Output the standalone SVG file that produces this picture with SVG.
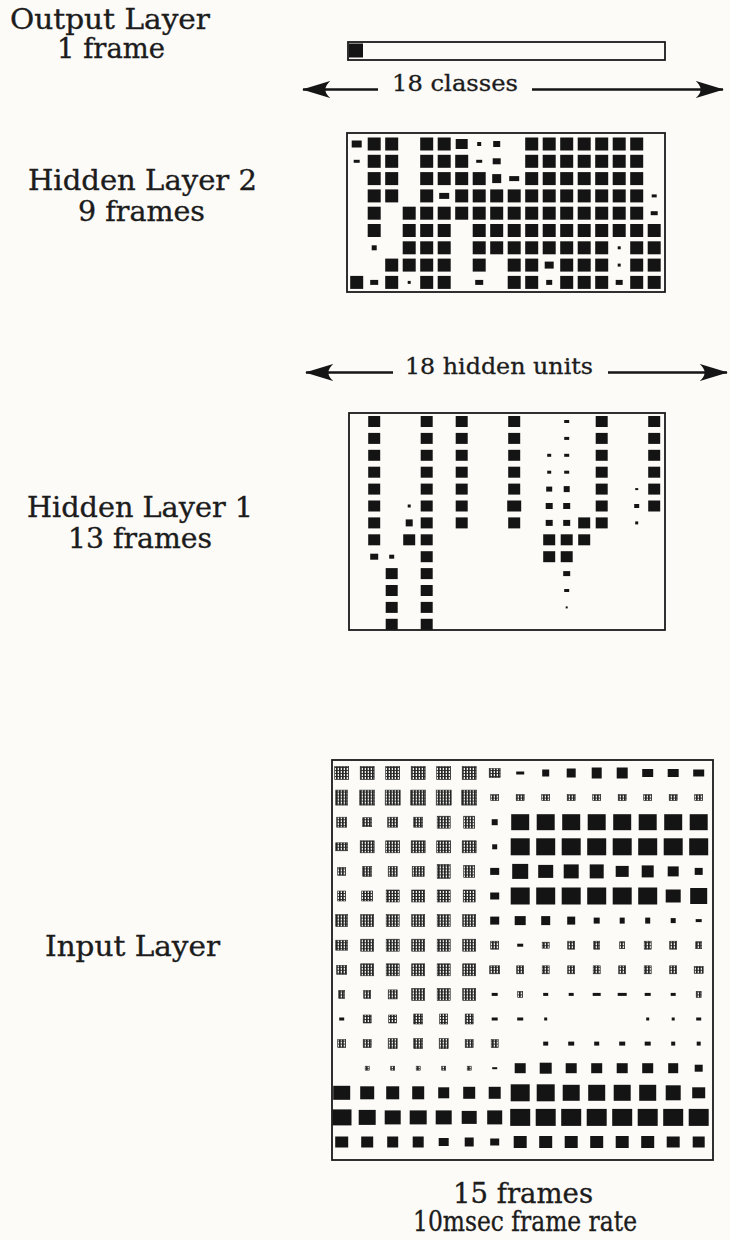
<svg xmlns="http://www.w3.org/2000/svg" width="730" height="1240" viewBox="0 0 730 1240">
<style>
.lbl{font-family:"DejaVu Serif","Liberation Serif",serif;font-size:27px;fill:#1c1c1c;stroke:#1c1c1c;stroke-width:0.35}
.dim{font-family:"DejaVu Serif","Liberation Serif",serif;font-size:22px;fill:#1c1c1c;stroke:#1c1c1c;stroke-width:0.3}
.box{fill:none;stroke:#1a1a1a;stroke-width:1.8}
.k{fill:#141414}
.p{fill:url(#hatch);stroke:#2a2a2a;stroke-width:0.6}
.arr{fill:none;stroke:#151515;stroke-width:2.3;marker-end:url(#head)}
</style>
<defs>
<pattern id="hatch" width="3" height="3" patternUnits="userSpaceOnUse">
<rect width="3" height="3" fill="#eeeeea"/>
<rect width="1.7" height="3" fill="#262626"/>
<rect width="3" height="0.9" fill="#262626"/>
</pattern>
<rect id="f2" x="-6.5" y="-6.5" width="13" height="13" fill="#141414"/>
<rect id="f1" x="-6" y="-5.5" width="12" height="11" fill="#141414"/>
<marker id="head" viewBox="0 0 30 18" refX="29" refY="9" markerWidth="28" markerHeight="18" markerUnits="userSpaceOnUse" orient="auto">
<path d="M30,9 L0,0 Q10,9 0,18 Z" fill="#151515"/>
</marker>
</defs>
<rect width="730" height="1240" fill="#fcfbf8"/>

<g id="output-layer">
<text class="lbl" x="10" y="29" textLength="200" lengthAdjust="spacingAndGlyphs">Output Layer</text>
<text class="lbl" x="57" y="58" textLength="108" lengthAdjust="spacingAndGlyphs">1 frame</text>
<rect class="box" x="348" y="42" width="317" height="18" stroke-width="2"/>
<rect class="k" x="349" y="43.5" width="14" height="14"/>
</g>

<g id="hidden-layer-2">
<text class="lbl" x="28" y="190" textLength="229" lengthAdjust="spacingAndGlyphs">Hidden Layer 2</text>
<text class="lbl" x="78" y="221" textLength="127" lengthAdjust="spacingAndGlyphs">9 frames</text>
<rect class="box" x="347" y="133" width="318" height="159"/>
<g id="h2-row0">
<rect class="k" x="351.7" y="140.5" width="10" height="7"/>
<use href="#f2" x="374.2" y="144"/><use href="#f2" x="391.7" y="144"/><use href="#f2" x="426.7" y="144"/><use href="#f2" x="444.2" y="144"/>
<rect class="k" x="455.7" y="139" width="12" height="10"/>
<rect class="k" x="477.2" y="142" width="4" height="4"/>
<rect class="k" x="493.2" y="141" width="7" height="6"/>
<use href="#f2" x="531.7" y="144"/><use href="#f2" x="549.2" y="144"/><use href="#f2" x="566.7" y="144"/><use href="#f2" x="584.2" y="144"/><use href="#f2" x="601.7" y="144"/><use href="#f2" x="619.2" y="144"/><use href="#f2" x="636.7" y="144"/>
</g>
<g id="h2-row1">
<rect class="k" x="353.7" y="159.8" width="6" height="3"/>
<use href="#f2" x="374.2" y="161.3"/><use href="#f2" x="391.7" y="161.3"/><use href="#f2" x="426.7" y="161.3"/><use href="#f2" x="444.2" y="161.3"/><use href="#f2" x="461.7" y="161.3"/>
<rect class="k" x="476.2" y="159.8" width="6" height="3"/>
<rect class="k" x="492.7" y="158.3" width="8" height="6"/>
<use href="#f2" x="531.7" y="161.3"/><use href="#f2" x="549.2" y="161.3"/><use href="#f2" x="566.7" y="161.3"/><use href="#f2" x="584.2" y="161.3"/><use href="#f2" x="601.7" y="161.3"/><use href="#f2" x="619.2" y="161.3"/><use href="#f2" x="636.7" y="161.3"/>
</g>
<g id="h2-row2">
<use href="#f2" x="374.2" y="178.6"/><use href="#f2" x="391.7" y="178.6"/><use href="#f2" x="426.7" y="178.6"/><use href="#f2" x="444.2" y="178.6"/><use href="#f2" x="461.7" y="178.6"/><use href="#f2" x="479.2" y="178.6"/>
<rect class="k" x="492.2" y="174.1" width="9" height="9"/>
<rect class="k" x="509.2" y="176.1" width="10" height="5"/>
<use href="#f2" x="531.7" y="178.6"/><use href="#f2" x="549.2" y="178.6"/><use href="#f2" x="566.7" y="178.6"/><use href="#f2" x="584.2" y="178.6"/><use href="#f2" x="601.7" y="178.6"/><use href="#f2" x="619.2" y="178.6"/><use href="#f2" x="636.7" y="178.6"/>
</g>
<g id="h2-row3">
<use href="#f2" x="374.2" y="195.9"/><use href="#f2" x="391.7" y="195.9"/><use href="#f2" x="426.7" y="195.9"/>
<rect class="k" x="439.2" y="192.9" width="10" height="6"/>
<use href="#f2" x="461.7" y="195.9"/><use href="#f2" x="479.2" y="195.9"/><use href="#f2" x="496.7" y="195.9"/><use href="#f2" x="514.2" y="195.9"/><use href="#f2" x="531.7" y="195.9"/><use href="#f2" x="549.2" y="195.9"/><use href="#f2" x="566.7" y="195.9"/><use href="#f2" x="584.2" y="195.9"/><use href="#f2" x="601.7" y="195.9"/><use href="#f2" x="619.2" y="195.9"/><use href="#f2" x="636.7" y="195.9"/>
<rect class="k" x="651.7" y="194.4" width="5" height="3"/>
</g>
<g id="h2-row4">
<use href="#f2" x="374.2" y="213.2"/><use href="#f2" x="409.2" y="213.2"/><use href="#f2" x="426.7" y="213.2"/><use href="#f2" x="444.2" y="213.2"/><use href="#f2" x="461.7" y="213.2"/><use href="#f2" x="479.2" y="213.2"/><use href="#f2" x="496.7" y="213.2"/><use href="#f2" x="514.2" y="213.2"/><use href="#f2" x="531.7" y="213.2"/><use href="#f2" x="549.2" y="213.2"/><use href="#f2" x="566.7" y="213.2"/><use href="#f2" x="584.2" y="213.2"/><use href="#f2" x="601.7" y="213.2"/><use href="#f2" x="619.2" y="213.2"/><use href="#f2" x="636.7" y="213.2"/>
<rect class="k" x="650.7" y="211.2" width="7" height="4"/>
</g>
<g id="h2-row5">
<use href="#f2" x="374.2" y="230.5"/><use href="#f2" x="409.2" y="230.5"/><use href="#f2" x="426.7" y="230.5"/><use href="#f2" x="444.2" y="230.5"/><use href="#f2" x="479.2" y="230.5"/><use href="#f2" x="496.7" y="230.5"/><use href="#f2" x="514.2" y="230.5"/><use href="#f2" x="531.7" y="230.5"/><use href="#f2" x="549.2" y="230.5"/><use href="#f2" x="566.7" y="230.5"/><use href="#f2" x="584.2" y="230.5"/><use href="#f2" x="601.7" y="230.5"/><use href="#f2" x="619.2" y="230.5"/><use href="#f2" x="636.7" y="230.5"/><use href="#f2" x="654.2" y="230.5"/>
</g>
<g id="h2-row6">
<rect class="k" x="371.7" y="245.3" width="5" height="5"/>
<use href="#f2" x="409.2" y="247.8"/><use href="#f2" x="426.7" y="247.8"/><use href="#f2" x="444.2" y="247.8"/><use href="#f2" x="479.2" y="247.8"/><use href="#f2" x="496.7" y="247.8"/><use href="#f2" x="514.2" y="247.8"/><use href="#f2" x="531.7" y="247.8"/><use href="#f2" x="549.2" y="247.8"/><use href="#f2" x="566.7" y="247.8"/><use href="#f2" x="584.2" y="247.8"/><use href="#f2" x="601.7" y="247.8"/>
<rect class="k" x="617.7" y="246.3" width="3" height="3"/>
<use href="#f2" x="636.7" y="247.8"/><use href="#f2" x="654.2" y="247.8"/>
</g>
<g id="h2-row7">
<use href="#f2" x="391.7" y="265.1"/><use href="#f2" x="409.2" y="265.1"/><use href="#f2" x="426.7" y="265.1"/><use href="#f2" x="444.2" y="265.1"/><use href="#f2" x="479.2" y="265.1"/><use href="#f2" x="514.2" y="265.1"/><use href="#f2" x="531.7" y="265.1"/>
<rect class="k" x="544.7" y="261.6" width="9" height="7"/>
<use href="#f2" x="566.7" y="265.1"/><use href="#f2" x="584.2" y="265.1"/><use href="#f2" x="601.7" y="265.1"/>
<rect class="k" x="617.7" y="263.6" width="3" height="3"/>
<use href="#f2" x="636.7" y="265.1"/><use href="#f2" x="654.2" y="265.1"/>
</g>
<g id="h2-row8">
<use href="#f2" x="356.7" y="282.4"/>
<rect class="k" x="370.2" y="279.9" width="8" height="5"/>
<use href="#f2" x="391.7" y="282.4"/>
<rect class="k" x="407.7" y="280.9" width="3" height="3"/>
<use href="#f2" x="426.7" y="282.4"/><use href="#f2" x="444.2" y="282.4"/>
<rect class="k" x="475.2" y="279.9" width="8" height="5"/>
<use href="#f2" x="514.2" y="282.4"/><use href="#f2" x="531.7" y="282.4"/>
<rect class="k" x="546.2" y="279.9" width="6" height="5"/>
<use href="#f2" x="566.7" y="282.4"/><use href="#f2" x="584.2" y="282.4"/><use href="#f2" x="601.7" y="282.4"/>
<rect class="k" x="615.7" y="279.9" width="7" height="5"/>
<use href="#f2" x="636.7" y="282.4"/><use href="#f2" x="654.2" y="282.4"/>
</g>
</g>

<g id="hidden-layer-1">
<text class="lbl" x="27" y="517" textLength="226" lengthAdjust="spacingAndGlyphs">Hidden Layer 1</text>
<text class="lbl" x="68" y="548" textLength="144" lengthAdjust="spacingAndGlyphs">13 frames</text>
<rect class="box" x="349" y="413" width="316" height="217"/>
<g id="h1-unit1">
<use href="#f1" x="374.2" y="421.5"/><use href="#f1" x="374.2" y="438.4"/><use href="#f1" x="374.2" y="455.3"/><use href="#f1" x="374.2" y="472.2"/><use href="#f1" x="374.2" y="489.1"/><use href="#f1" x="374.2" y="506"/><use href="#f1" x="374.2" y="522.9"/><use href="#f1" x="374.2" y="539.8"/>
<rect class="k" x="370.2" y="553.7" width="8" height="6"/>
</g>
<g id="h1-unit2">
<rect class="k" x="389.2" y="554.7" width="5" height="4"/>
<use href="#f1" x="391.7" y="573.6"/><use href="#f1" x="391.7" y="590.5"/><use href="#f1" x="391.7" y="607.4"/><use href="#f1" x="391.7" y="624.3"/>
</g>
<g id="h1-unit3">
<rect class="k" x="407.7" y="504.5" width="3" height="3"/>
<rect class="k" x="405.7" y="519.4" width="7" height="7"/>
<use href="#f1" x="409.2" y="539.8"/>
</g>
<g id="h1-unit4">
<use href="#f1" x="426.7" y="421.5"/><use href="#f1" x="426.7" y="438.4"/><use href="#f1" x="426.7" y="455.3"/><use href="#f1" x="426.7" y="472.2"/><use href="#f1" x="426.7" y="489.1"/><use href="#f1" x="426.7" y="506"/><use href="#f1" x="426.7" y="522.9"/><use href="#f1" x="426.7" y="539.8"/><use href="#f1" x="426.7" y="556.7"/><use href="#f1" x="426.7" y="573.6"/><use href="#f1" x="426.7" y="590.5"/><use href="#f1" x="426.7" y="607.4"/><use href="#f1" x="426.7" y="624.3"/>
</g>
<g id="h1-unit6">
<use href="#f1" x="461.7" y="421.5"/><use href="#f1" x="461.7" y="438.4"/><use href="#f1" x="461.7" y="455.3"/><use href="#f1" x="461.7" y="472.2"/><use href="#f1" x="461.7" y="489.1"/><use href="#f1" x="461.7" y="506"/><use href="#f1" x="461.7" y="522.9"/>
</g>
<g id="h1-unit9">
<use href="#f1" x="514.2" y="421.5"/><use href="#f1" x="514.2" y="438.4"/><use href="#f1" x="514.2" y="455.3"/><use href="#f1" x="514.2" y="472.2"/><use href="#f1" x="514.2" y="489.1"/>
<rect class="k" x="507.2" y="500.5" width="14" height="11"/>
<use href="#f1" x="514.2" y="522.9"/>
</g>
<g id="h1-unit11">
<rect class="k" x="547.2" y="453.8" width="4" height="3"/>
<rect class="k" x="547.2" y="470.7" width="4" height="3"/>
<rect class="k" x="546.2" y="486.6" width="6" height="5"/>
<rect class="k" x="545.7" y="503" width="7" height="6"/>
<rect class="k" x="545.7" y="519.9" width="7" height="6"/>
<use href="#f1" x="549.2" y="539.8"/><use href="#f1" x="549.2" y="556.7"/>
</g>
<g id="h1-unit12">
<rect class="k" x="564.2" y="420" width="5" height="3"/>
<rect class="k" x="564.2" y="436.9" width="5" height="3"/>
<rect class="k" x="564.2" y="453.8" width="5" height="3"/>
<rect class="k" x="564.2" y="470.7" width="5" height="3"/>
<rect class="k" x="563.7" y="486.1" width="6" height="6"/>
<rect class="k" x="563.2" y="503" width="7" height="6"/>
<rect class="k" x="563.2" y="519.9" width="7" height="6"/>
<use href="#f1" x="566.7" y="539.8"/><use href="#f1" x="566.7" y="556.7"/>
<rect class="k" x="563.2" y="571.1" width="7" height="5"/>
<rect class="k" x="564.2" y="589" width="5" height="3"/>
<rect class="k" x="565.7" y="606.4" width="2" height="2"/>
</g>
<g id="h1-unit13">
<use href="#f1" x="584.2" y="522.9"/><use href="#f1" x="584.2" y="539.8"/>
</g>
<g id="h1-unit14">
<use href="#f1" x="601.7" y="421.5"/><use href="#f1" x="601.7" y="438.4"/><use href="#f1" x="601.7" y="455.3"/><use href="#f1" x="601.7" y="472.2"/><use href="#f1" x="601.7" y="489.1"/><use href="#f1" x="601.7" y="506"/><use href="#f1" x="601.7" y="522.9"/>
</g>
<g id="h1-unit16">
<rect class="k" x="635.2" y="488.1" width="3" height="2"/>
<rect class="k" x="634.2" y="504" width="5" height="4"/>
<rect class="k" x="635.2" y="521.4" width="3" height="3"/>
</g>
<g id="h1-unit17">
<use href="#f1" x="654.2" y="421.5"/><use href="#f1" x="654.2" y="438.4"/><use href="#f1" x="654.2" y="455.3"/><use href="#f1" x="654.2" y="472.2"/><use href="#f1" x="654.2" y="489.1"/><use href="#f1" x="654.2" y="506"/>
</g>
</g>

<g id="input-layer">
<text class="lbl" x="45" y="956" textLength="175" lengthAdjust="spacingAndGlyphs">Input Layer</text>
<text class="lbl" x="453" y="1203" textLength="140" lengthAdjust="spacingAndGlyphs">15 frames</text>
<text class="lbl" x="413" y="1231" textLength="224" lengthAdjust="spacingAndGlyphs">10msec frame rate</text>
<rect class="box" x="332" y="760" width="381" height="400" stroke-width="2.4"/>
<g transform="translate(0,773)">
<rect class="p" x="334.7" y="-6.5" width="14" height="13"/><rect class="p" x="360.2" y="-6.5" width="14" height="13"/><rect class="p" x="385.7" y="-6.5" width="14" height="13"/><rect class="p" x="411.2" y="-6.5" width="14" height="13"/><rect class="p" x="436.7" y="-6.5" width="14" height="13"/><rect class="p" x="462.2" y="-6.5" width="14" height="13"/>
<rect class="p" x="489.2" y="-4.5" width="11" height="9"/>
<rect class="k" x="516.2" y="-1.5" width="8" height="3"/>
<rect class="k" x="542.2" y="-3.5" width="7" height="7"/>
<rect class="k" x="566.7" y="-4.5" width="9" height="9"/>
<rect class="k" x="591.7" y="-5.5" width="10" height="11"/>
<rect class="k" x="616.7" y="-5.5" width="11" height="11"/>
<rect class="k" x="642.2" y="-4" width="11" height="8"/>
<rect class="k" x="667.7" y="-4" width="11" height="8"/>
<rect class="k" x="693.2" y="-3.5" width="11" height="7"/>
</g>
<g transform="translate(0,797.6)">
<rect class="p" x="335.7" y="-7.5" width="12" height="15"/>
<rect class="p" x="359.7" y="-7.5" width="15" height="15"/><rect class="p" x="385.2" y="-7.5" width="15" height="15"/><rect class="p" x="410.7" y="-7.5" width="15" height="15"/><rect class="p" x="436.2" y="-7.5" width="15" height="15"/><rect class="p" x="461.7" y="-7.5" width="15" height="15"/>
<rect class="p" x="490.7" y="-3" width="8" height="6"/><rect class="p" x="516.2" y="-3" width="8" height="6"/><rect class="p" x="541.7" y="-3" width="8" height="6"/><rect class="p" x="567.2" y="-3" width="8" height="6"/><rect class="p" x="592.7" y="-3" width="8" height="6"/><rect class="p" x="618.2" y="-3" width="8" height="6"/><rect class="p" x="643.7" y="-3" width="8" height="6"/><rect class="p" x="669.2" y="-3" width="8" height="6"/><rect class="p" x="694.7" y="-3" width="8" height="6"/>
</g>
<g transform="translate(0,822.2)">
<rect class="p" x="336.7" y="-5" width="10" height="10"/>
<rect class="p" x="362.7" y="-4.5" width="9" height="9"/>
<rect class="p" x="387.7" y="-5" width="10" height="10"/>
<rect class="p" x="413.7" y="-5" width="9" height="10"/>
<rect class="p" x="437.2" y="-6" width="13" height="12"/>
<rect class="p" x="463.7" y="-6" width="11" height="12"/>
<rect class="k" x="491.7" y="-3" width="6" height="6"/>
<rect class="k" x="511.2" y="-8" width="18" height="16"/><rect class="k" x="536.7" y="-8" width="18" height="16"/><rect class="k" x="562.2" y="-8" width="18" height="16"/><rect class="k" x="587.7" y="-8" width="18" height="16"/><rect class="k" x="613.2" y="-8" width="18" height="16"/><rect class="k" x="638.7" y="-8" width="18" height="16"/><rect class="k" x="664.2" y="-8" width="18" height="16"/><rect class="k" x="689.7" y="-8" width="18" height="16"/>
</g>
<g transform="translate(0,846.8)">
<rect class="p" x="335.7" y="-4" width="12" height="8"/>
<rect class="p" x="360.2" y="-6" width="14" height="12"/><rect class="p" x="385.7" y="-6" width="14" height="12"/><rect class="p" x="411.2" y="-6" width="14" height="12"/><rect class="p" x="436.7" y="-6" width="14" height="12"/><rect class="p" x="462.2" y="-6" width="14" height="12"/>
<rect class="k" x="492.2" y="-2.5" width="5" height="5"/>
<rect class="k" x="510.7" y="-8.5" width="19" height="17"/><rect class="k" x="536.2" y="-8.5" width="19" height="17"/><rect class="k" x="561.7" y="-8.5" width="19" height="17"/><rect class="k" x="587.2" y="-8.5" width="19" height="17"/><rect class="k" x="612.7" y="-8.5" width="19" height="17"/><rect class="k" x="638.2" y="-8.5" width="19" height="17"/><rect class="k" x="663.7" y="-8.5" width="19" height="17"/><rect class="k" x="689.2" y="-8.5" width="19" height="17"/>
</g>
<g transform="translate(0,871.4)">
<rect class="p" x="337.7" y="-4" width="8" height="8"/>
<rect class="p" x="362.7" y="-5" width="9" height="10"/>
<rect class="p" x="388.2" y="-5" width="9" height="10"/>
<rect class="p" x="412.2" y="-5" width="12" height="10"/>
<rect class="p" x="437.2" y="-7" width="13" height="14"/>
<rect class="p" x="463.7" y="-6" width="11" height="12"/>
<rect class="k" x="490.2" y="-3.5" width="9" height="7"/>
<rect class="k" x="512.2" y="-7.5" width="16" height="15"/>
<rect class="k" x="538.2" y="-6.5" width="15" height="13"/>
<rect class="k" x="563.7" y="-7" width="15" height="14"/>
<rect class="k" x="589.7" y="-7" width="14" height="14"/>
<rect class="k" x="615.7" y="-5.5" width="13" height="11"/>
<rect class="k" x="641.7" y="-6" width="12" height="12"/>
<rect class="k" x="667.7" y="-5" width="11" height="10"/>
<rect class="k" x="694.7" y="-3.5" width="8" height="7"/>
</g>
<g transform="translate(0,896)">
<rect class="p" x="337.7" y="-5" width="8" height="10"/>
<rect class="p" x="361.7" y="-5" width="11" height="10"/>
<rect class="p" x="386.2" y="-6" width="13" height="12"/><rect class="p" x="411.7" y="-6" width="13" height="12"/><rect class="p" x="437.2" y="-6" width="13" height="12"/>
<rect class="p" x="463.2" y="-6" width="12" height="12"/>
<rect class="k" x="490.2" y="-3.5" width="9" height="7"/>
<rect class="k" x="510.7" y="-8.5" width="19" height="17"/><rect class="k" x="536.2" y="-8.5" width="19" height="17"/><rect class="k" x="561.7" y="-8.5" width="19" height="17"/><rect class="k" x="587.2" y="-8.5" width="19" height="17"/><rect class="k" x="612.7" y="-8.5" width="19" height="17"/><rect class="k" x="638.2" y="-8.5" width="19" height="17"/>
<rect class="k" x="665.7" y="-6.5" width="15" height="13"/>
<rect class="k" x="690.2" y="-8" width="17" height="16"/>
</g>
<g transform="translate(0,920.6)">
<rect class="p" x="335.7" y="-6" width="12" height="12"/>
<rect class="p" x="360.7" y="-6" width="13" height="12"/><rect class="p" x="386.2" y="-6" width="13" height="12"/><rect class="p" x="411.7" y="-6" width="13" height="12"/><rect class="p" x="437.2" y="-6" width="13" height="12"/><rect class="p" x="462.7" y="-6" width="13" height="12"/>
<rect class="k" x="490.2" y="-4" width="9" height="8"/>
<rect class="k" x="514.7" y="-4.5" width="11" height="9"/>
<rect class="k" x="541.2" y="-4.5" width="9" height="9"/>
<rect class="k" x="567.2" y="-4" width="8" height="8"/>
<rect class="k" x="593.7" y="-3" width="6" height="6"/>
<rect class="k" x="619.7" y="-3" width="5" height="6"/>
<rect class="k" x="645.2" y="-3" width="5" height="6"/>
<rect class="k" x="670.7" y="-2.5" width="5" height="5"/>
<rect class="k" x="695.7" y="-1.5" width="6" height="3"/>
</g>
<g transform="translate(0,945.2)">
<rect class="p" x="335.7" y="-5" width="12" height="10"/>
<rect class="p" x="360.7" y="-6" width="13" height="12"/><rect class="p" x="386.2" y="-6" width="13" height="12"/><rect class="p" x="411.7" y="-6" width="13" height="12"/><rect class="p" x="437.2" y="-6" width="13" height="12"/><rect class="p" x="462.7" y="-6" width="13" height="12"/>
<rect class="p" x="490.7" y="-4" width="8" height="8"/>
<rect class="k" x="517.2" y="-1.5" width="6" height="3"/>
<rect class="p" x="542.2" y="-3" width="7" height="6"/>
<rect class="p" x="567.7" y="-4" width="7" height="8"/>
<rect class="p" x="593.7" y="-4" width="6" height="8"/>
<rect class="p" x="619.7" y="-3.5" width="5" height="7"/>
<rect class="p" x="644.2" y="-4" width="7" height="8"/>
<rect class="p" x="669.7" y="-4" width="7" height="8"/>
<rect class="p" x="695.7" y="-3.5" width="6" height="7"/>
</g>
<g transform="translate(0,969.8)">
<rect class="p" x="336.7" y="-4.5" width="10" height="9"/>
<rect class="p" x="360.7" y="-6" width="13" height="12"/><rect class="p" x="386.2" y="-6" width="13" height="12"/><rect class="p" x="411.7" y="-6" width="13" height="12"/><rect class="p" x="437.2" y="-6" width="13" height="12"/><rect class="p" x="462.7" y="-6" width="13" height="12"/>
<rect class="p" x="489.7" y="-4" width="10" height="8"/>
<rect class="p" x="516.7" y="-4" width="7" height="8"/><rect class="p" x="542.2" y="-4" width="7" height="8"/><rect class="p" x="567.7" y="-4" width="7" height="8"/><rect class="p" x="593.2" y="-4" width="7" height="8"/><rect class="p" x="618.7" y="-4" width="7" height="8"/><rect class="p" x="644.2" y="-4" width="7" height="8"/><rect class="p" x="669.7" y="-4" width="7" height="8"/>
<rect class="p" x="694.2" y="-3.5" width="9" height="7"/>
</g>
<g transform="translate(0,994.4)">
<rect class="p" x="338.7" y="-4" width="6" height="8"/>
<rect class="p" x="363.7" y="-4" width="7" height="8"/>
<rect class="p" x="388.2" y="-4.5" width="9" height="9"/>
<rect class="p" x="411.7" y="-6" width="13" height="12"/><rect class="p" x="437.2" y="-6" width="13" height="12"/><rect class="p" x="462.7" y="-6" width="13" height="12"/>
<rect class="k" x="491.7" y="-1.5" width="6" height="3"/>
<rect class="p" x="517.7" y="-3" width="5" height="6"/>
<rect class="k" x="543.2" y="-1.5" width="5" height="3"/>
<rect class="k" x="568.7" y="-1.5" width="5" height="3"/>
<rect class="k" x="592.7" y="-1.5" width="8" height="3"/>
<rect class="k" x="617.7" y="-1.5" width="9" height="3"/>
<rect class="k" x="644.7" y="-1.5" width="6" height="3"/>
<rect class="k" x="670.7" y="-1.5" width="5" height="3"/>
<rect class="p" x="696.2" y="-3" width="5" height="6"/>
</g>
<g transform="translate(0,1019)">
<rect class="k" x="339.2" y="-1.5" width="5" height="3"/>
<rect class="p" x="363.2" y="-4" width="8" height="8"/>
<rect class="p" x="388.7" y="-4" width="8" height="8"/>
<rect class="p" x="413.7" y="-5" width="9" height="10"/>
<rect class="p" x="439.7" y="-5" width="8" height="10"/>
<rect class="p" x="465.2" y="-5" width="8" height="10"/>
<rect class="k" x="491.7" y="-1.5" width="6" height="3"/>
<rect class="k" x="517.2" y="-1.5" width="6" height="3"/>
<rect class="k" x="544.2" y="-1.5" width="3" height="3"/>
<rect class="k" x="646.2" y="-1.5" width="3" height="3"/>
<rect class="k" x="671.7" y="-1.5" width="3" height="3"/>
<rect class="k" x="696.2" y="-1.5" width="5" height="3"/>
</g>
<g transform="translate(0,1043.6)">
<rect class="p" x="337.7" y="-4" width="8" height="8"/>
<rect class="p" x="363.2" y="-4" width="8" height="8"/>
<rect class="p" x="388.2" y="-5" width="9" height="10"/>
<rect class="p" x="413.7" y="-5" width="9" height="10"/>
<rect class="p" x="439.2" y="-5" width="9" height="10"/>
<rect class="p" x="465.2" y="-4" width="8" height="8"/>
<rect class="p" x="491.2" y="-4" width="7" height="8"/>
<rect class="k" x="543.2" y="-2" width="5" height="4"/>
<rect class="k" x="568.2" y="-2" width="6" height="4"/>
<rect class="k" x="594.2" y="-2" width="5" height="4"/>
<rect class="k" x="619.2" y="-2" width="6" height="4"/>
<rect class="k" x="644.7" y="-2" width="6" height="4"/>
<rect class="k" x="671.2" y="-2" width="4" height="4"/>
<rect class="k" x="696.7" y="-2" width="4" height="4"/>
</g>
<g transform="translate(0,1068.2)">
<rect class="p" x="365.2" y="-2" width="4" height="4"/><rect class="p" x="390.7" y="-2" width="4" height="4"/><rect class="p" x="416.2" y="-2" width="4" height="4"/><rect class="p" x="441.7" y="-2" width="4" height="4"/><rect class="p" x="467.2" y="-2" width="4" height="4"/>
<rect class="k" x="492.2" y="-1" width="5" height="2"/>
<rect class="k" x="514.7" y="-5" width="11" height="10"/>
<rect class="k" x="539.7" y="-5.5" width="12" height="11"/>
<rect class="k" x="565.7" y="-5" width="11" height="10"/><rect class="k" x="591.2" y="-5" width="11" height="10"/><rect class="k" x="616.7" y="-5" width="11" height="10"/><rect class="k" x="642.2" y="-5" width="11" height="10"/>
<rect class="k" x="668.2" y="-5" width="10" height="10"/>
<rect class="k" x="694.7" y="-3.5" width="8" height="7"/>
</g>
<g transform="translate(0,1092.8)">
<rect class="k" x="333.2" y="-7" width="17" height="14"/>
<rect class="k" x="360.2" y="-6.5" width="14" height="13"/>
<rect class="k" x="386.2" y="-6.5" width="13" height="13"/>
<rect class="k" x="412.2" y="-6.5" width="12" height="13"/>
<rect class="k" x="438.2" y="-5.5" width="11" height="11"/>
<rect class="k" x="463.2" y="-6" width="12" height="12"/>
<rect class="k" x="488.7" y="-6" width="12" height="12"/>
<rect class="k" x="510.7" y="-8.5" width="19" height="17"/>
<rect class="k" x="536.7" y="-8.5" width="18" height="17"/>
<rect class="k" x="562.7" y="-8" width="17" height="16"/><rect class="k" x="588.2" y="-8" width="17" height="16"/><rect class="k" x="613.7" y="-8" width="17" height="16"/><rect class="k" x="639.2" y="-8" width="17" height="16"/>
<rect class="k" x="665.7" y="-7.5" width="15" height="15"/>
<rect class="k" x="692.2" y="-5.5" width="13" height="11"/>
</g>
<g transform="translate(0,1117.4)">
<rect class="k" x="332.5" y="-8" width="19" height="16"/>
<rect class="k" x="358.7" y="-7.5" width="17" height="15"/>
<rect class="k" x="384.7" y="-7" width="16" height="14"/>
<rect class="k" x="409.7" y="-7" width="17" height="14"/>
<rect class="k" x="435.7" y="-7" width="16" height="14"/>
<rect class="k" x="461.7" y="-6.5" width="15" height="13"/>
<rect class="k" x="487.2" y="-7" width="15" height="14"/>
<rect class="k" x="510.2" y="-8.5" width="20" height="17"/><rect class="k" x="535.7" y="-8.5" width="20" height="17"/><rect class="k" x="561.2" y="-8.5" width="20" height="17"/><rect class="k" x="586.7" y="-8.5" width="20" height="17"/><rect class="k" x="612.2" y="-8.5" width="20" height="17"/><rect class="k" x="637.7" y="-8.5" width="20" height="17"/><rect class="k" x="663.2" y="-8.5" width="20" height="17"/><rect class="k" x="688.7" y="-8.5" width="20" height="17"/>
</g>
<g transform="translate(0,1142)">
<rect class="k" x="335.2" y="-5.5" width="13" height="11"/>
<rect class="k" x="361.2" y="-5.5" width="12" height="11"/>
<rect class="k" x="387.2" y="-5.5" width="11" height="11"/>
<rect class="k" x="412.7" y="-5.5" width="11" height="11"/>
<rect class="k" x="438.7" y="-4" width="10" height="8"/>
<rect class="k" x="464.7" y="-4.5" width="9" height="9"/>
<rect class="k" x="490.2" y="-3.5" width="9" height="7"/>
<rect class="k" x="513.7" y="-6" width="13" height="12"/><rect class="k" x="539.2" y="-6" width="13" height="12"/><rect class="k" x="564.7" y="-6" width="13" height="12"/><rect class="k" x="590.2" y="-6" width="13" height="12"/><rect class="k" x="615.7" y="-6" width="13" height="12"/><rect class="k" x="641.2" y="-6" width="13" height="12"/>
<rect class="k" x="666.7" y="-5.5" width="13" height="11"/>
<rect class="k" x="692.7" y="-5.5" width="12" height="11"/>
</g>
</g>

<g id="connectors">
<text class="dim" x="392" y="91" textLength="126" lengthAdjust="spacingAndGlyphs">18 classes</text>
<path class="arr" d="M378,89.5 H303"/>
<path class="arr" d="M532,89.5 H723"/>
<text class="dim" x="405" y="374" textLength="188" lengthAdjust="spacingAndGlyphs">18 hidden units</text>
<path class="arr" d="M393,372.5 H306"/>
<path class="arr" d="M608,372.5 H727"/>
</g>
</svg>
